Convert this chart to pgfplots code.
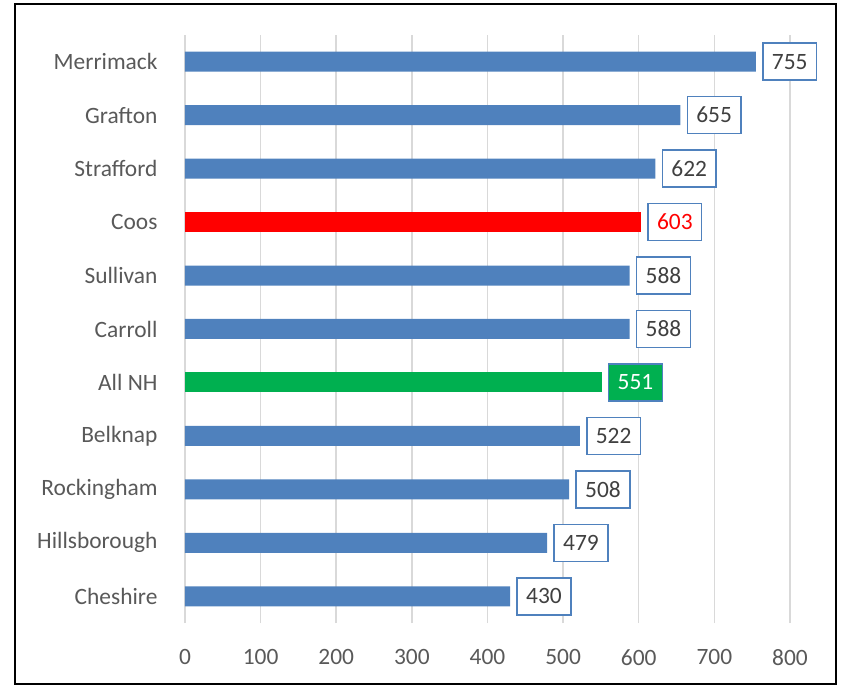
\documentclass[border=0pt]{standalone}
\usepackage{fontspec}
\setmainfont{Carlito}
\usepackage{pgfplots}
\pgfplotsset{compat=1.18}
\definecolor{barblue}{HTML}{4F81BD}
\definecolor{boxblue}{HTML}{4F81BD}
\definecolor{barred}{HTML}{FF0000}
\definecolor{bargreen}{HTML}{00B050}
\definecolor{gridgray}{HTML}{D9D9D9}
\definecolor{labgray}{HTML}{595959}
\definecolor{valgray}{HTML}{404040}
\begin{document}
\begin{tikzpicture}
\useasboundingbox (-185bp,-62bp) rectangle (657bp,623bp);
\draw[black, line width=2bp] (-170bp,619bp) rectangle (651bp,-61bp);
\begin{axis}[
  scale only axis,
  width=605bp, height=588bp,
  xbar, bar width=20bp,
  xmin=0, xmax=800,
  ymin=-0.5, ymax=10.5,
  xtick={0,100,...,800},
  ytick={0,...,10},
  yticklabels={Cheshire,Hillsborough,Rockingham,Belknap,All NH,Carroll,Sullivan,Coos,Strafford,Grafton,Merrimack},
  axis line style={draw=none},
  major tick length=0pt,
  xmajorgrids, grid style={gridgray, line width=1.5bp},
  /pgf/number format/assume math mode=true,
  tick label style={font=\fontsize{23.5}{27}\selectfont, text=labgray},
  xticklabel style={yshift=-23bp},
  yticklabel style={xshift=-24bp},
  nodes near coords,
  every node near coord/.append style={anchor=west, xshift=7bp, draw=boxblue, line width=1.5bp,
     fill=white, text=valgray, font=\fontsize{23.5}{27}\selectfont, inner xsep=9bp,
     minimum height=37bp, outer sep=0pt},
]
\addplot[fill=barblue, draw=none, bar shift=0pt] coordinates {
 (430,0) (479,1) (508,2) (522,3) (588,5) (588,6) (622,8) (655,9) (755,10)};
\addplot[fill=barred, draw=none, bar shift=0pt,
  every node near coord/.append style={text=red}] coordinates {(603,7)};
\addplot[fill=bargreen, draw=none, bar shift=0pt,
  every node near coord/.append style={text=white, fill=bargreen}] coordinates {(551,4)};
\end{axis}
\end{tikzpicture}
\end{document}
